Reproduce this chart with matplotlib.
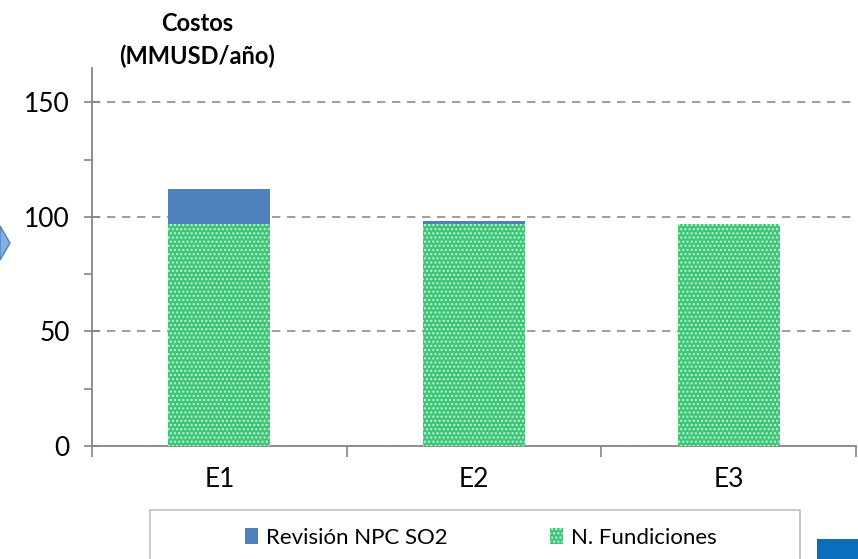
import matplotlib.pyplot as plt
from matplotlib.patches import Polygon, Rectangle
from matplotlib.ticker import MultipleLocator

plt.rcParams['font.family'] = ['Lato', 'DejaVu Sans']
plt.rcParams['hatch.linewidth'] = 1.0

# Datos
categorias = ['E1', 'E2', 'E3']
fundiciones = [97, 97, 97]
revision_npc = [15.2, 1.3, 0.0]

W, H = 858, 559
fig = plt.figure(figsize=(W / 100, H / 100), dpi=100)
ax = fig.add_axes([92 / W, 1 - 446 / H, (856 - 92) / W, (446 - 68) / H])

x = range(len(categorias))
ax.bar(x, fundiciones, width=0.4, color='#3cc676', edgecolor='#c8f0d8', linewidth=0,
       hatch='....', label='N. Fundiciones', zorder=3)
ax.bar(x, revision_npc, width=0.4, bottom=fundiciones, color='#4f81bd',
       linewidth=0, label='Revisión NPC SO2', zorder=3)

ax.set_xlim(-0.5, 2.5)
ax.set_ylim(0, 165)
ax.set_yticks([0, 50, 100, 150])
ax.yaxis.set_minor_locator(MultipleLocator(25))
ax.set_xticks(x)
ax.set_xticklabels(categorias)
ax.set_xticks([-0.5, 0.5, 1.5, 2.5], minor=True)

ax.tick_params(axis='y', which='major', direction='inout', length=12, width=1.2,
               color='#868686', labelsize=19, pad=10)
ax.tick_params(axis='y', which='minor', direction='out', length=6, width=1.2, color='#868686')
ax.tick_params(axis='x', which='major', length=0, labelsize=19, pad=15)
ax.tick_params(axis='x', which='minor', direction='out', length=8, width=1.2, color='#868686')

for s in ['top', 'right']:
    ax.spines[s].set_visible(False)
for s in ['left', 'bottom']:
    ax.spines[s].set_color('#868686')
    ax.spines[s].set_linewidth(1.3)

ax.grid(axis='y', which='major', color='#8c8c8c', linestyle=(0, (5, 4)), linewidth=1.2, zorder=0)

fig.text(197 / W, 1 - 40 / H, 'Costos\n(MMUSD/año)', ha='center', va='center',
         fontsize=17, fontweight='bold', linespacing=1.5)

# marco de la leyenda
fig.patches.append(Rectangle((150 / W, -0.02), 650 / W, (559 - 510) / H + 0.02,
                             transform=fig.transFigure, facecolor='white',
                             edgecolor='#bfbfbf', linewidth=1.2))
handles, labels = ax.get_legend_handles_labels()
leg = fig.legend(handles[::-1], labels[::-1], loc='center', ncol=2,
                 bbox_to_anchor=(481 / W, 1 - 538 / H), fontsize=16, frameon=False,
                 handlelength=0.6, handleheight=0.75, handletextpad=0.35, columnspacing=4.6)

# decoraciones de la diapositiva
fig.patches.append(Polygon([(0, 1 - 226 / H), (10 / W, 1 - 243 / H), (0, 1 - 260 / H)],
                           closed=True, transform=fig.transFigure,
                           facecolor='#7fb0e8', edgecolor='#4f81bd', linewidth=1))
fig.patches.append(Rectangle((817 / W, 0), 41 / W, 20 / H, transform=fig.transFigure,
                             facecolor='#0a6ebd', edgecolor='none'))

fig.savefig('out.png', dpi=100)
